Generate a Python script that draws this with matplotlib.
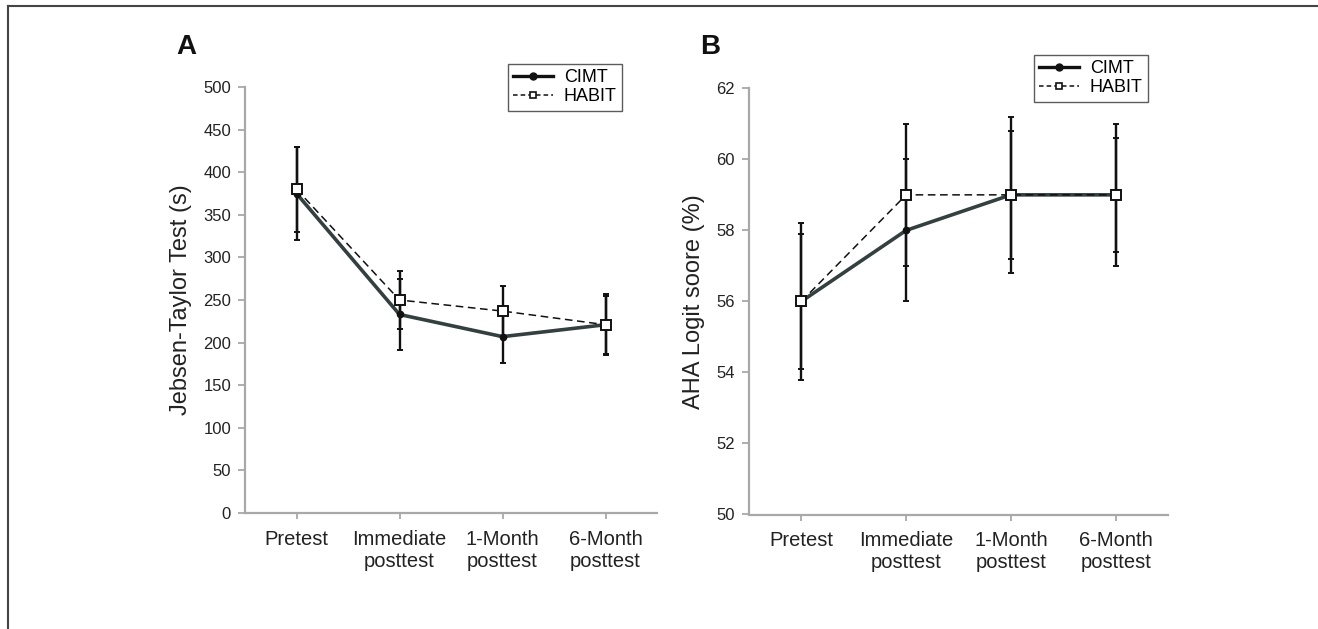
import numpy as np
import matplotlib
matplotlib.use("Agg")
import matplotlib.pyplot as plt
from matplotlib.lines import Line2D

plt.rcParams["font.family"] = ["Liberation Sans", "DejaVu Sans"]

# --- data ---
categories = ["Pretest", "Immediate\nposttest", "1-Month\nposttest", "6-Month\nposttest"]

jt_cimt = [375, 233, 207, 221]
jt_cimt_err = [55, 42, 31, 36]
jt_habit = [380, 250, 237, 221]
jt_habit_err = [50, 34, 30, 34]

aha_cimt = [56, 58, 59, 59]
aha_cimt_err = [2.2, 2.0, 2.2, 2.0]
aha_habit = [56, 59, 59, 59]
aha_habit_err = [1.9, 2.0, 1.8, 1.6]

W, H = 1318, 629
fig = plt.figure(figsize=(W / 100, H / 100), dpi=100)
fig.patch.set_facecolor("white")

# partial frame (top + left edge)
fig.add_artist(Line2D([8 / W, 8 / W], [0, 1 - 6 / H], transform=fig.transFigure,
                      color="#444444", lw=1.5))
fig.add_artist(Line2D([8 / W, 1], [1 - 6 / H, 1 - 6 / H], transform=fig.transFigure,
                      color="#444444", lw=1.5))

SPINE = "#a8a8a8"
CIMT_C = "#34403f"


def draw_panel(ax, cimt, cimt_err, habit, habit_err, ylim, yticks, ylabel, leg_anchor):
    x = np.arange(len(categories))
    ax.errorbar(x, cimt, yerr=cimt_err, fmt="none", ecolor="#111111",
                elinewidth=1.7, capsize=2.3, capthick=1.4, zorder=3)
    ax.errorbar(x, habit, yerr=habit_err, fmt="none", ecolor="#111111",
                elinewidth=1.7, capsize=2.3, capthick=1.4, zorder=3)
    ax.plot(x, cimt, color=CIMT_C, lw=2.6, marker="o", ms=4.5,
            mfc="#111111", mec="#111111", zorder=4, label="CIMT")
    ax.plot(x, habit, color="#111111", lw=1.1, ls=(0, (5, 3)), marker="s", ms=7,
            mfc="white", mec="#111111", mew=1.4, zorder=5, label="HABIT")

    ax.set_xlim(-0.5, len(categories) - 0.5)
    ax.set_ylim(*ylim)
    ax.set_yticks(yticks)
    ax.set_xticks(x)
    ax.set_xticklabels(categories, fontsize=14.5, color="#222222", linespacing=1.2)
    ax.tick_params(axis="y", labelsize=12, colors=SPINE, labelcolor="#222222",
                   length=5, width=1.3, pad=5)
    ax.tick_params(axis="x", colors=SPINE, labelcolor="#222222",
                   length=4, width=1.3, pad=8)
    for s in ["top", "right"]:
        ax.spines[s].set_visible(False)
    for s in ["left", "bottom"]:
        ax.spines[s].set_color(SPINE)
        ax.spines[s].set_linewidth(1.6)
    ax.set_ylabel(ylabel, fontsize=17, color="#222222", labelpad=8)

    handles = [
        Line2D([], [], color="#111111", lw=2.4, marker="o", ms=5, mfc="#111111"),
        Line2D([], [], color="#111111", lw=1.1, ls=(0, (3, 2)), marker="s", ms=5,
               mfc="white", mew=1.2),
    ]
    leg = ax.legend(handles, ["CIMT", "HABIT"], loc="upper right",
                    bbox_to_anchor=leg_anchor, bbox_transform=fig.transFigure,
                    fontsize=13, frameon=True, fancybox=False, handlelength=2.2,
                    borderpad=0.3, labelspacing=0.1, handletextpad=0.6,
                    borderaxespad=0)
    leg.get_frame().set_edgecolor("#333333")
    leg.get_frame().set_linewidth(1.0)


axA = fig.add_axes([245 / W, 1 - 513 / H, (657 - 245) / W, (513 - 87) / H])
draw_panel(axA, jt_cimt, jt_cimt_err, jt_habit, jt_habit_err,
           (0, 500), np.arange(0, 501, 50), "Jebsen-Taylor Test (s)",
           (622 / W, 1 - 64 / H))

axB = fig.add_axes([749 / W, 1 - 514.5 / H, (1168 - 749) / W, (514.5 - 88.3) / H])
draw_panel(axB, aha_cimt, aha_cimt_err, aha_habit, aha_habit_err,
           (50, 62), np.arange(50, 63, 2), "AHA Logit soore (%)",
           (1148 / W, 1 - 55 / H))

fig.text(186 / W, 1 - 47 / H, "A", fontsize=20, fontweight="bold",
         ha="center", va="center", color="#111111")
fig.text(710 / W, 1 - 47 / H, "B", fontsize=20, fontweight="bold",
         ha="center", va="center", color="#111111")

fig.savefig("out.png", dpi=100, facecolor=fig.get_facecolor())
